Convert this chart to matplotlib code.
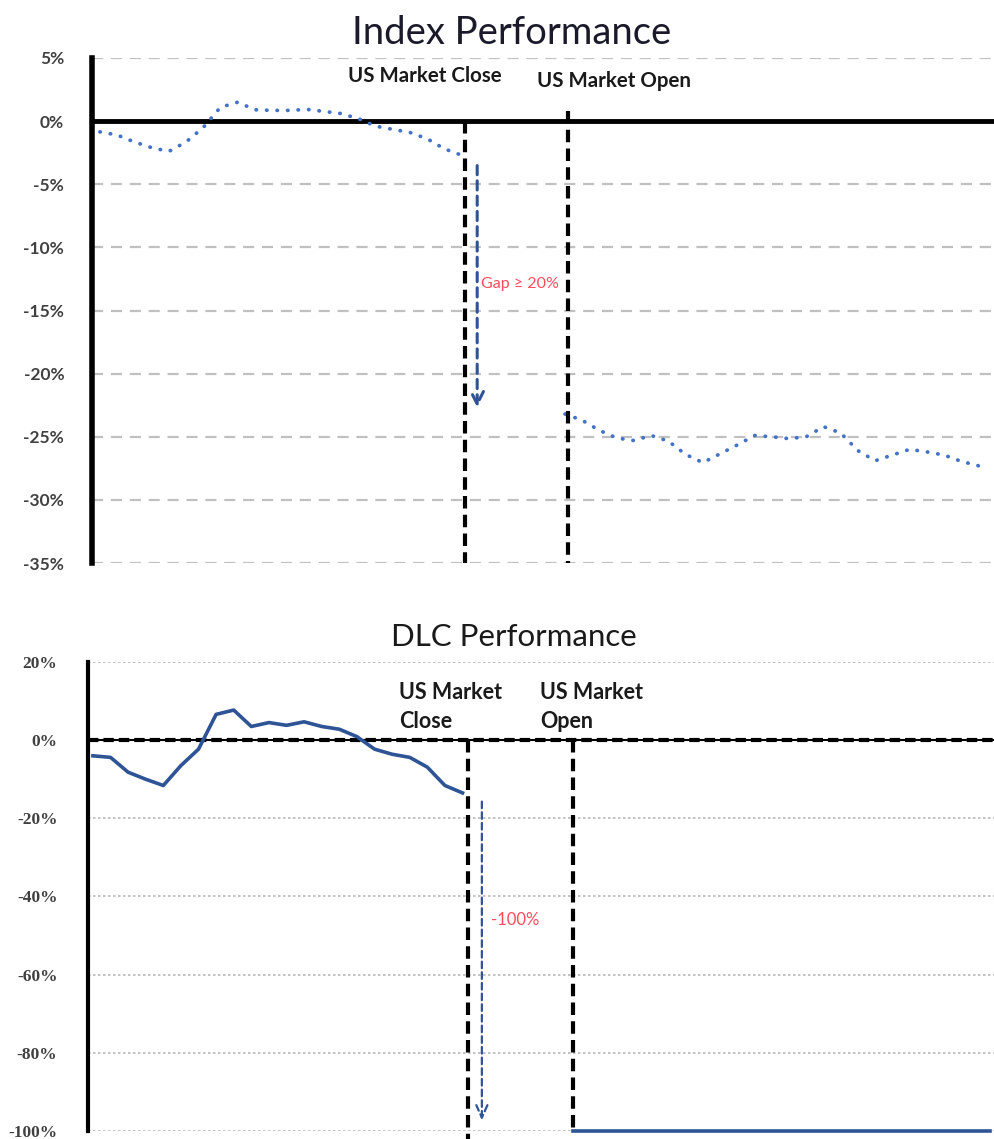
# Index vs leveraged DLC performance around the US market close/open gap
from matplotlib import pyplot as plt
import numpy as np

# time steps (intraday samples); close at step 21, open at step 27
t_pre = list(range(0, 22))
t_post = list(range(27, 52))
t_close = 21
t_open = 27

# index performance (%)
index_pre = [-0.85, -1.1, -1.65, -2.1, -2.4, -1.65, -0.5, 1.1, 1.5, 0.9, 0.85,
             0.85, 0.93, 0.77, 0.6, 0.2, -0.4, -0.65, -0.9, -1.4, -2.2, -2.7]
index_post = [-23.2, -23.7, -24.5, -25.1, -25.3, -24.9, -25.35, -26.4, -27.05,
              -26.35, -25.65, -24.9, -25.0, -25.15, -25.0, -24.2, -24.7, -26.1,
              -26.9, -26.45, -26.0, -26.2, -26.45, -26.95, -27.3]

# DLC performance (%)
dlc_pre = [-4.0, -4.4, -8.2, -10.0, -11.6, -6.5, -2.3, 6.6, 7.7, 3.5, 4.5,
           3.8, 4.7, 3.5, 2.8, 0.9, -2.3, -3.6, -4.4, -6.9, -11.6, -13.5]
dlc_post = [-100.0] * len(t_post)

index_ticks = [5, 0, -5, -10, -15, -20, -25, -30, -35]
dlc_ticks = [20, 0, -20, -40, -60, -80, -100]

W, H = 994, 1139
fig = plt.figure(figsize=(W / 100, H / 100), dpi=100)

sans = ['Lato', 'DejaVu Sans']
serif = ['Liberation Serif', 'DejaVu Serif']
tick_col = '#404040'
blue_dot = '#4472c4'
blue_line = '#2f5496'
dotted = (0, (0.1, 2.7))

# ---------------- top chart ----------------
ax1 = fig.add_axes([92 / W, 1 - 563 / H, (W - 92) / W, (563 - 58) / H])
ax1.set_xlim(-0.46, 51.9)
ax1.set_ylim(-35, 5)
ax1.set_yticks(index_ticks)
ax1.set_yticklabels([f'{v}%' for v in index_ticks], fontfamily=sans,
                    fontsize=12.5, fontweight='bold', color=tick_col)
ax1.set_xticks([])
ax1.tick_params(axis='y', length=0, pad=20)
for s in ['top', 'right', 'bottom']:
    ax1.spines[s].set_visible(False)
ax1.spines['left'].set_linewidth(4)
ax1.yaxis.grid(True, color='#c0c0c0', linestyle=(0, (5, 3.5)), linewidth=1.6)
ax1.set_axisbelow(True)
ax1.axhline(0, color='black', linewidth=3.5, zorder=3)

ax1.plot(t_pre, index_pre, color=blue_dot, linestyle=dotted,
         linewidth=2.7, dash_capstyle='round', zorder=4)
ax1.plot(t_post, index_post, color=blue_dot, linestyle=dotted,
         linewidth=2.7, dash_capstyle='round', zorder=4)

ax1.plot([t_close + 0.2, t_close + 0.2], [0, -35], color='black',
         linestyle=(0, (3, 1.5)), linewidth=3, zorder=5, clip_on=False)
ax1.plot([t_open + 0.2, t_open + 0.2], [0.8, -35], color='black',
         linestyle=(0, (3, 1.5)), linewidth=3, zorder=5, clip_on=False)

ax1.annotate('', xy=(t_close + 0.9, -22.9), xytext=(t_close + 0.9, -3.3),
             arrowprops=dict(arrowstyle='->,head_length=0.9,head_width=0.45',
                             color=blue_line, linewidth=2.2,
                             linestyle=(0, (3, 2))), zorder=6)
ax1.text(t_close + 1.15, -12.9, 'Gap ≥ 20%', color='#ff4b5c', fontsize=11.5,
         fontfamily=sans, va='center', ha='left')

ax1.text(14.4, 3.6, 'US Market Close', fontsize=14.8, fontweight='bold',
         fontfamily=sans, va='center', ha='left', color='#1a1a1a')
ax1.text(25.4, 3.2, 'US Market Open', fontsize=14.8, fontweight='bold',
         fontfamily=sans, va='center', ha='left', color='#1a1a1a')
fig.text(512 / W, 1 - 33 / H, 'Index Performance', fontsize=27.5,
         fontfamily=sans, ha='center', va='center', color='#1a1a2a')

# ---------------- bottom chart ----------------
ax2 = fig.add_axes([88 / W, 1 - 1131 / H, (W - 88) / W, (1131 - 662) / H])
ax2.set_xlim(-0.28, 51.2)
ax2.set_ylim(-100, 20)
ax2.set_yticks(dlc_ticks)
ax2.set_yticklabels([f'{v}%' for v in dlc_ticks], fontfamily=serif,
                    fontsize=12.5, fontweight='bold', color=tick_col)
ax2.set_xticks([])
ax2.tick_params(axis='y', length=0, pad=22)
for s in ['top', 'right', 'bottom']:
    ax2.spines[s].set_visible(False)
ax2.spines['left'].set_linewidth(3)
ax2.yaxis.grid(True, color='#b8b8b8', linestyle=(0, (1.5, 1.5)), linewidth=1.2)
ax2.set_axisbelow(True)
ax2.axhline(0, color='black', linewidth=1.5, zorder=3)
ax2.axhline(0, color='black', linewidth=3, linestyle=(0, (2.5, 1.2)), zorder=3)

ax2.plot(t_pre, dlc_pre, color=blue_line, linewidth=2.6, zorder=4)
ax2.plot([t_open + 0.25] + t_post[1:], dlc_post, color=blue_line,
         linewidth=2.6, zorder=4, clip_on=False)

ax2.plot([t_close + 0.3, t_close + 0.3], [0, -102], color='black',
         linestyle=(0, (3, 1.5)), linewidth=3, zorder=5, clip_on=False)
ax2.plot([t_open + 0.25, t_open + 0.25], [0, -100], color='black',
         linestyle=(0, (3, 1.5)), linewidth=3, zorder=5, clip_on=False)

ax2.annotate('', xy=(t_close + 1.1, -98), xytext=(t_close + 1.1, -15),
             arrowprops=dict(arrowstyle='->,head_length=0.9,head_width=0.4',
                             color=blue_line, linewidth=1.6,
                             linestyle=(0, (3, 1.8))), zorder=6)
ax2.text(t_close + 1.6, -46, '-100%', color='#ff4b5c', fontsize=12,
         fontfamily=sans, va='center', ha='left')

ax2.text(17.4, 12.3, 'US Market', fontsize=15.5, fontweight='bold',
         fontfamily=sans, va='center', ha='left', color='#1a1a1a')
ax2.text(17.4, 4.8, 'Close', fontsize=15.5, fontweight='bold',
         fontfamily=sans, va='center', ha='left', color='#1a1a1a')
ax2.text(25.4, 12.3, 'US Market', fontsize=15.5, fontweight='bold',
         fontfamily=sans, va='center', ha='left', color='#1a1a1a')
ax2.text(25.4, 4.8, 'Open', fontsize=15.5, fontweight='bold',
         fontfamily=sans, va='center', ha='left', color='#1a1a1a')
fig.text(514 / W, 1 - 637 / H, 'DLC Performance', fontsize=22.5,
         fontfamily=sans, ha='center', va='center', color='#1a1a1a')

fig.savefig('out.png', dpi=100)
